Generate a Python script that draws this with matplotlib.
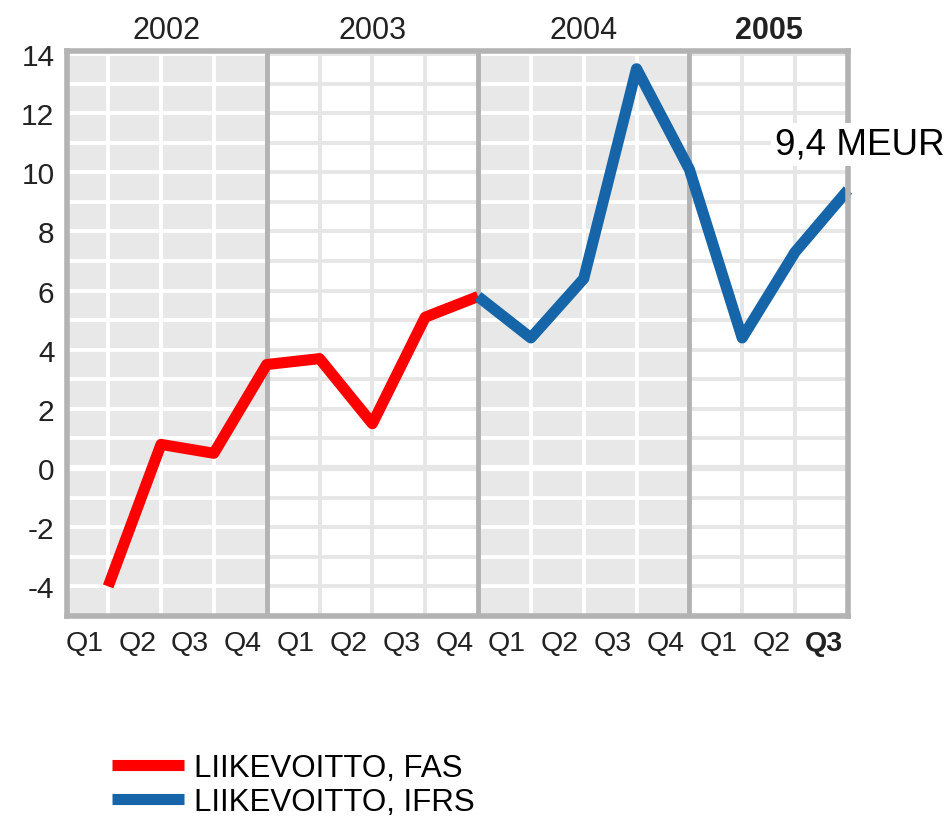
import numpy as np
import matplotlib
matplotlib.use('Agg')
import matplotlib.pyplot as plt

plt.rcParams['font.family'] = ['Liberation Sans', 'DejaVu Sans']

years = ['2002', '2003', '2004', '2005']
quarters = ['Q1', 'Q2', 'Q3', 'Q4'] * 3 + ['Q1', 'Q2', 'Q3']
fas = [-4.0, 0.8, 0.5, 3.5, 3.7, 1.5, 5.1, 5.8]
ifrs = [5.8, 4.4, 6.4, 13.5, 10.1, 4.4, 7.3, 9.4]
yticks = [-4, -2, 0, 2, 4, 6, 8, 10, 12, 14]

red = '#ff0000'
blue = '#1565a8'
border = '#b3b3b3'
shade = '#e8e8e8'

x_fas = np.arange(len(fas))
x_ifrs = np.arange(len(fas) - 1, len(fas) - 1 + len(ifrs))
n = len(quarters)

fig = plt.figure(figsize=(9.5, 8.2), dpi=100)
ax = fig.add_axes([0.0705, 0.2476, 0.822, 0.689])
xmin, xmax = -0.78, n - 1
ymin, ymax = -5, 14.1
ax.set_xlim(xmin, xmax)
ax.set_ylim(ymin, ymax)

# year blocks: grey for 2002 and 2004, white for the others
for i, yr in enumerate(years):
    x0 = -1 + 4 * i
    x1 = x0 + 4
    shaded = i % 2 == 0
    if shaded:
        ax.axvspan(x0, x1, color=shade, lw=0, zorder=0)
    gc = 'white' if shaded else '#e6e6e6'
    lo, hi = max(x0, xmin), min(x1, xmax)
    for v in range(-5, 15):
        ax.hlines(v, lo, hi, color=gc, lw=4.5 if v == 0 else 2.8, zorder=1)
    for q in range(x0 + 1, x1):
        if lo < q < hi:
            ax.vlines(q, ymin, ymax, color=gc, lw=2.8, zorder=1)
    if i > 0:
        ax.axvline(x0, color=border, lw=3.5, zorder=2)
    ax.text((lo + hi) / 2, 1.038, yr, transform=ax.get_xaxis_transform(),
            ha='center', va='center', fontsize=22, color='#222222',
            fontweight='bold' if yr == years[-1] else 'normal')

ax.plot(x_fas, fas, color=red, lw=8, solid_capstyle='butt', zorder=3,
        label='LIIKEVOITTO, FAS')
ax.plot(x_ifrs, ifrs, color=blue, lw=8, solid_capstyle='butt', zorder=3,
        clip_on=False, label='LIIKEVOITTO, IFRS')

ax.text(12.62, 10.95, '9,4 MEUR', fontsize=26.5, color='black', va='center',
        ha='left', zorder=5, clip_on=False,
        bbox=dict(facecolor='white', edgecolor='none', pad=3))

for s in ax.spines.values():
    s.set_color(border)
    s.set_linewidth(4)
    s.set_zorder(4)

ax.set_yticks(yticks)
ax.set_yticklabels([str(t) for t in yticks])
ax.set_xticks(np.arange(n) - 0.45)
ax.set_xticklabels(quarters)
ax.get_xticklabels()[-1].set_fontweight('bold')
ax.tick_params(axis='y', length=0, pad=9, labelsize=21.5, labelcolor='#222222')
ax.tick_params(axis='x', length=0, pad=10, labelsize=20.5, labelcolor='#222222')

fig.legend(loc='upper left', bbox_to_anchor=(0.105, 0.096), frameon=False,
           fontsize=22.5, handlelength=2.3, handletextpad=0.3, labelspacing=0.12,
           borderaxespad=0)

fig.savefig('out.png', dpi=100)
